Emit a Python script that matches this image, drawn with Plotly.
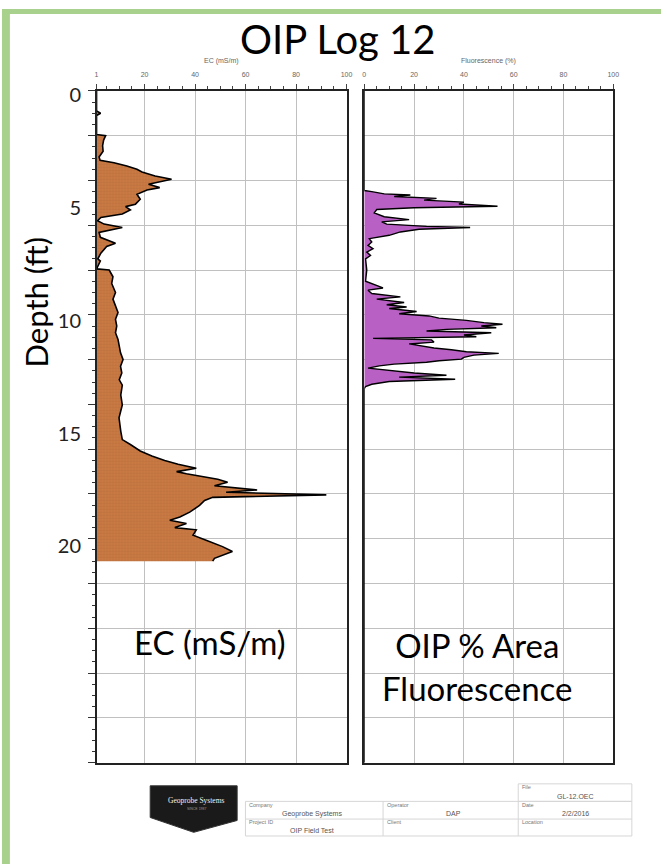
import plotly.graph_objects as go

W, H = 667, 864

# ---------------- data ----------------
ec_depth = [0.0, 0.9, 1.0, 1.1, 1.95, 2.0, 2.2, 2.45, 2.7, 2.95, 3.1, 3.21, 3.36, 3.5, 3.62, 3.8,
            3.95, 4.07, 4.17, 4.32, 4.43, 4.62, 4.84, 5.06, 5.17, 5.32, 5.5, 5.65, 5.8, 5.95,
            6.1, 6.32, 6.54, 6.8, 6.95, 7.25, 7.5, 7.6, 7.95, 8.0, 8.3, 8.6, 9.0, 9.3, 9.6,
            9.9, 10.2, 10.5, 10.8, 11.1, 11.4, 11.7, 12.0, 12.3, 12.6, 12.9, 13.14, 13.58,
            14.02, 14.6, 15.2, 15.57, 15.79, 16.08, 16.3, 16.5, 16.67, 16.85, 17.0, 17.1,
            17.34, 17.48, 17.63, 17.82, 17.92, 18.04, 18.15, 18.29, 18.51, 18.81, 19.03,
            19.17, 19.32, 19.5, 19.6, 19.84, 20.06, 20.35, 20.57, 20.72, 20.87, 21.0]
ec_value = [1, 1, 2.6, 1, 1, 4.6, 3.8, 3.4, 3.6, 2.0, 2.4, 7.9, 13, 17, 19, 24.2,
            30.7, 26, 21.6, 26, 21, 17, 18.3, 16.4, 12.5, 14.4, 11.2, 2.7, 1.4, 4,
            11.2, 2.0, 2.5, 8.5, 5, 2.7, 1.5, 2.5, 1, 6, 7.5, 7, 8.5, 7.5, 8.5,
            9.5, 8.5, 9, 8.5, 9.5, 10, 10.5, 11.5, 10.5, 11, 10, 11.2, 10.6,
            11.2, 9.9, 10.6, 11.2, 14.4, 18.3, 22.9, 28, 33.3, 40.5, 32.7, 36.6,
            49, 52.9, 47.7, 64.6, 52.3, 92, 47, 43.8, 41.8, 37.9, 34,
            30, 36.6, 32, 40.5, 39.2, 44.4, 50.9, 54.8, 50.9, 47.7, 47]

fl_depth = [0.0, 4.45, 4.5, 4.6, 4.65, 4.72, 4.8, 4.88, 4.97, 5.05, 5.15, 5.22, 5.3, 5.45,
            5.62, 5.75, 5.85, 5.95, 6.05, 6.1, 6.18, 6.3, 6.45, 6.6, 6.75, 6.9, 7.05, 7.2,
            7.35, 7.5, 8.0, 8.5, 8.8, 8.9, 9.05, 9.2, 9.3, 9.45, 9.55, 9.65, 9.72, 9.85,
            9.95, 10.05, 10.15, 10.25, 10.35, 10.42, 10.5, 10.58, 10.65, 10.72, 10.8, 10.9,
            10.98, 11.05, 11.12, 11.22, 11.3, 11.38, 11.48, 11.56, 11.65, 11.72, 11.8, 11.9,
            11.98, 12.05, 12.12, 12.2, 12.28, 12.38, 12.5, 12.6, 12.7, 12.78, 12.88, 12.98,
            13.1, 13.2, 13.3, 30.0]
fl_value = [0, 0, 3, 8, 18.5, 12, 29, 24, 40, 38, 53.5, 20, 5, 4,
            8, 18, 7, 9, 25, 42.5, 22, 14.5, 10, 2, 3, 1.5, 3.5, 1,
            2.5, 0.5, 1, 0.5, 7.5, 1.5, 3, 14.5, 5, 16, 9, 17, 10, 21,
            14, 26, 30, 41, 48, 55.5, 47, 53, 33, 25, 51, 40,
            45, 3.5, 27, 28, 18, 22, 28, 35, 41, 54, 44, 40,
            39, 30, 25, 12, 6, 1.5, 12, 20, 33, 14, 36.5, 10,
            3, 0.5, 0, 0]

ec_ticks = [1, 20, 40, 60, 80, 100]
fl_ticks = [0, 20, 40, 60, 80, 100]
depth_labels = [0, 5, 10, 15, 20]


def px(x):
    return x / W


def py(y):
    return 1 - y / H


# plot frame geometry (pixels)
EC_L, EC_R = 95.7, 348.7
FL_L, FL_R = 366.7, 618.7
TOP, BOT = 82.7, 761.7

fig = go.Figure()

fig.add_trace(go.Scatter(
    x=ec_value, y=ec_depth, mode="lines", xaxis="x", yaxis="y",
    line=dict(color="black", width=1.6), fill="tozerox", fillcolor="#C8773F",
    fillpattern=dict(shape="+", size=3, solidity=0.12, fgcolor="#A85E32",
                     bgcolor="#C97A44", fillmode="replace"),
    hoverinfo="skip", showlegend=False))

fig.add_trace(go.Scatter(
    x=fl_value, y=fl_depth, mode="lines", xaxis="x2", yaxis="y2",
    line=dict(color="black", width=1.4), fill="tozerox", fillcolor="#B960C4",
    hoverinfo="skip", showlegend=False))

# invisible helper trace so the depth-label axis is drawn
fig.add_trace(go.Scatter(x=[None], y=[None], xaxis="x", yaxis="y3", mode="lines",
                         hoverinfo="skip", showlegend=False))

grid = "#c0c0c0"
tickfont = dict(family="Liberation Sans, Arial", size=7, color="#666")

common_x = dict(side="top", ticks="outside", ticklen=5, tickcolor="#444", tickwidth=1,
                tickfont=tickfont, showgrid=True, gridcolor=grid, gridwidth=1,
                showline=True, linecolor="#222", linewidth=1.5, mirror=True,
                zeroline=False, fixedrange=True, ticklabelstandoff=4,
                minor=dict(dtick=5, tick0=0, ticks="outside", ticklen=3,
                           tickcolor="#444", showgrid=False))

fig.update_layout(
    width=W, height=H, autosize=False,
    margin=dict(l=0, r=0, t=0, b=0),
    paper_bgcolor="white", plot_bgcolor="white",
    xaxis=dict(domain=[px(EC_L), px(EC_R)], range=[1, 100], anchor="y",
               tickvals=ec_ticks, **common_x),
    xaxis2=dict(domain=[px(FL_L), px(FL_R)], range=[0, 100], anchor="y2",
                tickvals=fl_ticks, **common_x),
    yaxis=dict(domain=[py(BOT), py(TOP)], range=[30, 0], anchor="x",
               tickmode="linear", tick0=0, dtick=2, ticks="outside", ticklen=7,
               tickcolor="#333", showticklabels=False, showgrid=True,
               gridcolor=grid, gridwidth=1, showline=True, linecolor="#222",
               linewidth=1.5, mirror=True, zeroline=False,
               minor=dict(dtick=0.5, ticks="outside", ticklen=3, tickcolor="#333",
                          showgrid=False)),
    yaxis2=dict(domain=[py(BOT), py(TOP)], range=[30, 0], anchor="x2", matches="y",
                tickmode="linear", tick0=0, dtick=2, ticks="", showticklabels=False,
                showgrid=True, gridcolor=grid, gridwidth=1, showline=True,
                linecolor="#222", linewidth=2, mirror=True, zeroline=False),
    yaxis3=dict(overlaying="y", anchor="free", position=px(80), side="left",
                range=[29.59, -0.19], tickvals=depth_labels, ticks="",
                showgrid=False, showline=False, zeroline=False,
                tickfont=dict(family="Lato", size=20, color="#222")),
)

shapes = []
# green frame
green = "#A9D18E"
shapes.append(dict(type="rect", xref="paper", yref="paper", x0=0, x1=px(8), y0=0, y1=1,
                   fillcolor=green, line=dict(width=0), layer="above"))
shapes.append(dict(type="rect", xref="paper", yref="paper", x0=0, x1=1, y0=py(5), y1=1,
                   fillcolor=green, line=dict(width=0), layer="above"))

# logo (black pentagon)
logo = [(150, 785), (238, 785), (238, 820), (194, 832), (150, 817)]
path = "M " + " L ".join(f"{px(x)},{py(y)}" for x, y in logo) + " Z"
shapes.append(dict(type="path", xref="paper", yref="paper", path=path,
                   fillcolor="#1a1a1a", line=dict(color="#333", width=1)))

# footer table
tl = dict(color="#d6d6d6", width=1)
shapes.append(dict(type="rect", xref="paper", yref="paper", x0=px(522.5), x1=px(637.5),
                   y0=py(800.7), y1=py(783), line=tl))
shapes.append(dict(type="rect", xref="paper", yref="paper", x0=px(246.4), x1=px(637.5),
                   y0=py(835.7), y1=py(800.7), line=tl))
shapes.append(dict(type="line", xref="paper", yref="paper", x0=px(246.4), x1=px(637.5),
                   y0=py(818.6), y1=py(818.6), line=tl))
for xv in (385.7, 522.5):
    shapes.append(dict(type="line", xref="paper", yref="paper", x0=px(xv), x1=px(xv),
                       y0=py(835.7), y1=py(800.7), line=tl))

annotations = []


def txt(x, y, s, size, color="#000", family="Lato", xanchor="center", angle=0):
    annotations.append(dict(x=px(x), y=py(y), xref="paper", yref="paper", text=s,
                            showarrow=False, xanchor=xanchor, yanchor="middle",
                            textangle=angle,
                            font=dict(family=family, size=size, color=color)))


txt(340, 30, "OIP Log 12", 40)
txt(34, 296, "Depth (ft)", 31, angle=-90)
txt(211, 640, "EC (mS/m)", 33)
annotations.append(dict(x=px(481), y=py(664), xref="paper", yref="paper",
                        text="OIP % Area<br>Fluorescence", showarrow=False,
                        xanchor="center", yanchor="middle",
                        font=dict(family="Lato", size=33, color="#000")))
txt(222.2, 53, "EC (mS/m)", 7, "#666", "Liberation Sans, Arial")
txt(492.7, 53, "Fluorescence (%)", 7, "#666", "Liberation Sans, Arial")

# logo text
txt(197, 800, "Geoprobe Systems", 7.5, "#f2f2f2", "Liberation Serif, serif")
txt(197, 808, "SINCE 1987", 3.5, "#999", "Liberation Sans")

lab = dict(size=5.5, color="#777", family="Liberation Sans, Arial", xanchor="left")
for (x, y, s) in [(524, 786.5, "File"), (248, 804.3, "Company"), (387.5, 804.3, "Operator"),
                  (524, 804.3, "Date"), (248, 821.5, "Project ID"), (387.5, 821.5, "Client"),
                  (524, 821.5, "Location")]:
    txt(x, y, s, **lab)
val = dict(size=7, color="#555", family="Liberation Sans, Arial")
for (x, y, s) in [(580, 795.5, "GL-12.OEC"), (314, 813, "Geoprobe Systems"), (457, 813, "DAP"),
                  (580, 813, "2/2/2016"), (314, 830, "OIP Field Test")]:
    txt(x, y, s, **val)

fig.update_layout(shapes=shapes, annotations=annotations)

fig.write_html("out.html")
